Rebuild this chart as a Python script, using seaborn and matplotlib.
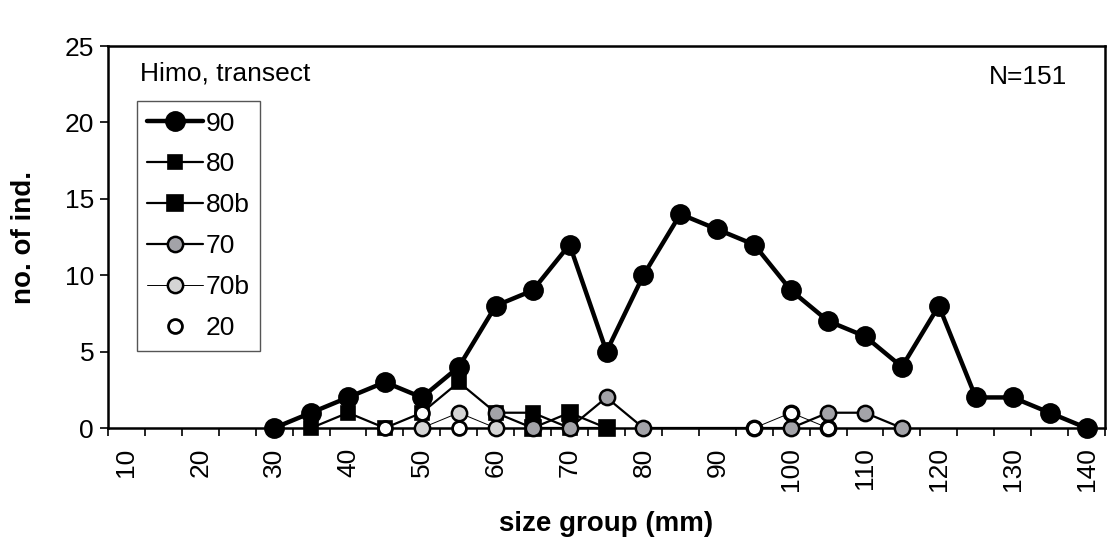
import numpy as np
import pandas as pd
import matplotlib
matplotlib.use("Agg")
import matplotlib.pyplot as plt
import seaborn as sns
from matplotlib.ticker import FixedLocator

# ---- data ----
size_90 = [30, 35, 40, 45, 50, 55, 60, 65, 70, 75, 80, 85, 90, 95, 100, 105, 110, 115, 120, 125, 130, 135, 140]
n_90 = [0, 1, 2, 3, 2, 4, 8, 9, 12, 5, 10, 14, 13, 12, 9, 7, 6, 4, 8, 2, 2, 1, 0]

size_80 = [35, 40, 45, 50, 55, 60, 65, 70, 75]
n_80 = [0, 1, 0, 1, 3, 1, 1, 0, 0]

size_80b = [65, 70, 75]
n_80b = [0, 1, 0]

size_70 = [60, 65, 70, 75, 80, 100, 105, 110, 115]
n_70 = [1, 0, 0, 2, 0, 0, 1, 1, 0]

size_70b_a = [50, 55, 60]
n_70b_a = [0, 1, 0]
size_70b_b = [95, 100, 105]
n_70b_b = [0, 1, 0]

size_20 = [45, 50, 55, 95, 100, 105]
n_20 = [0, 1, 0, 0, 1, 0]

x_tick_labels = [10, 20, 30, 40, 50, 60, 70, 80, 90, 100, 110, 120, 130, 140]
y_ticks = [0, 5, 10, 15, 20, 25]

# ---- style ----
sns.set_theme(style="ticks")
plt.rcParams["font.family"] = ["Liberation Sans", "DejaVu Sans"]
plt.rcParams["text.color"] = "black"
plt.rcParams["axes.labelcolor"] = "black"
plt.rcParams["xtick.color"] = "black"
plt.rcParams["ytick.color"] = "black"
plt.rcParams["xtick.labelcolor"] = "black"
plt.rcParams["ytick.labelcolor"] = "black"

fig = plt.figure(figsize=(11.09, 5.46), dpi=100)
ax = fig.add_axes([108 / 1109, 1 - 428 / 546, (1105 - 108) / 1109, (428 - 46) / 546])
ax.set_facecolor("white")
fig.patch.set_facecolor("white")

common = dict(ax=ax, estimator=None, clip_on=False, color="black", markeredgecolor="black")

sns.lineplot(x=size_90, y=n_90, label="90", marker="o", markersize=13.5, linewidth=3.2,
             markerfacecolor="black", markeredgewidth=1.5, zorder=3, **common)
sns.lineplot(x=size_80, y=n_80, label="80", marker="s", markersize=10, linewidth=1.6,
             markerfacecolor="black", markeredgewidth=1.2, zorder=4, **common)
sns.lineplot(x=size_80b, y=n_80b, label="80b", marker="s", markersize=11, linewidth=1.6,
             markerfacecolor="black", markeredgewidth=1.2, zorder=5, **common)
sns.lineplot(x=size_70, y=n_70, label="70", marker="o", markersize=11, linewidth=1.6,
             markerfacecolor="#a3a3a8", markeredgewidth=1.8, zorder=6, **common)
sns.lineplot(x=size_70b_a, y=n_70b_a, label="70b", marker="o", markersize=11,
             linewidth=0.7, markerfacecolor="#d4d4d4", markeredgewidth=1.8, zorder=7, **common)
sns.lineplot(x=size_70b_b, y=n_70b_b, label="_nolegend_", marker="o", markersize=11,
             linewidth=0.7, markerfacecolor="#d4d4d4", markeredgewidth=1.8, zorder=7, **common)
sns.lineplot(x=size_20, y=n_20, label="20", marker="o", markersize=10, linestyle="none",
             markerfacecolor="white", markeredgewidth=2.0, zorder=8, **common)

# ---- axes ----
ax.set_xlim(7.5, 142.5)
ax.set_ylim(0, 25)
ax.xaxis.set_major_locator(FixedLocator(x_tick_labels))
ax.set_xticklabels([str(v) for v in x_tick_labels], rotation=90, fontsize=19)
ax.xaxis.set_minor_locator(FixedLocator(np.arange(7.5, 143, 5)))
ax.tick_params(axis="x", which="major", length=0, pad=14)
ax.tick_params(axis="x", which="minor", length=6, width=1.2, direction="out", color="black")
ax.set_yticks(y_ticks)
ax.set_yticklabels([str(v) for v in y_ticks], fontsize=19)
ax.tick_params(axis="y", which="major", length=6, width=1.2, direction="out", color="black", pad=4)

for s in ax.spines.values():
    s.set_visible(True)
    s.set_color("black")
    s.set_linewidth(1.8)

ax.set_xlabel("size group (mm)", fontsize=20, fontweight="bold", labelpad=14)
ax.set_ylabel("no. of ind.", fontsize=20, fontweight="bold", labelpad=20)

ax.text(0.032, 0.929, "Himo, transect", transform=ax.transAxes, fontsize=19,
        ha="left", va="center")
ax.text(0.962, 0.918, "N=151", transform=ax.transAxes, fontsize=19,
        ha="right", va="center")

leg = ax.legend(loc="upper left", bbox_to_anchor=(0.029, 0.856), fontsize=19,
                frameon=True, fancybox=False, edgecolor="#555555", framealpha=1,
                handlelength=2.1, handletextpad=0.1, labelspacing=0.64,
                borderpad=0.4, borderaxespad=0)
leg.get_frame().set_linewidth(1.0)
leg.set_zorder(10)
for t in leg.get_texts():
    t.set_color("black")

fig.savefig("out.png", dpi=100, facecolor="white")
